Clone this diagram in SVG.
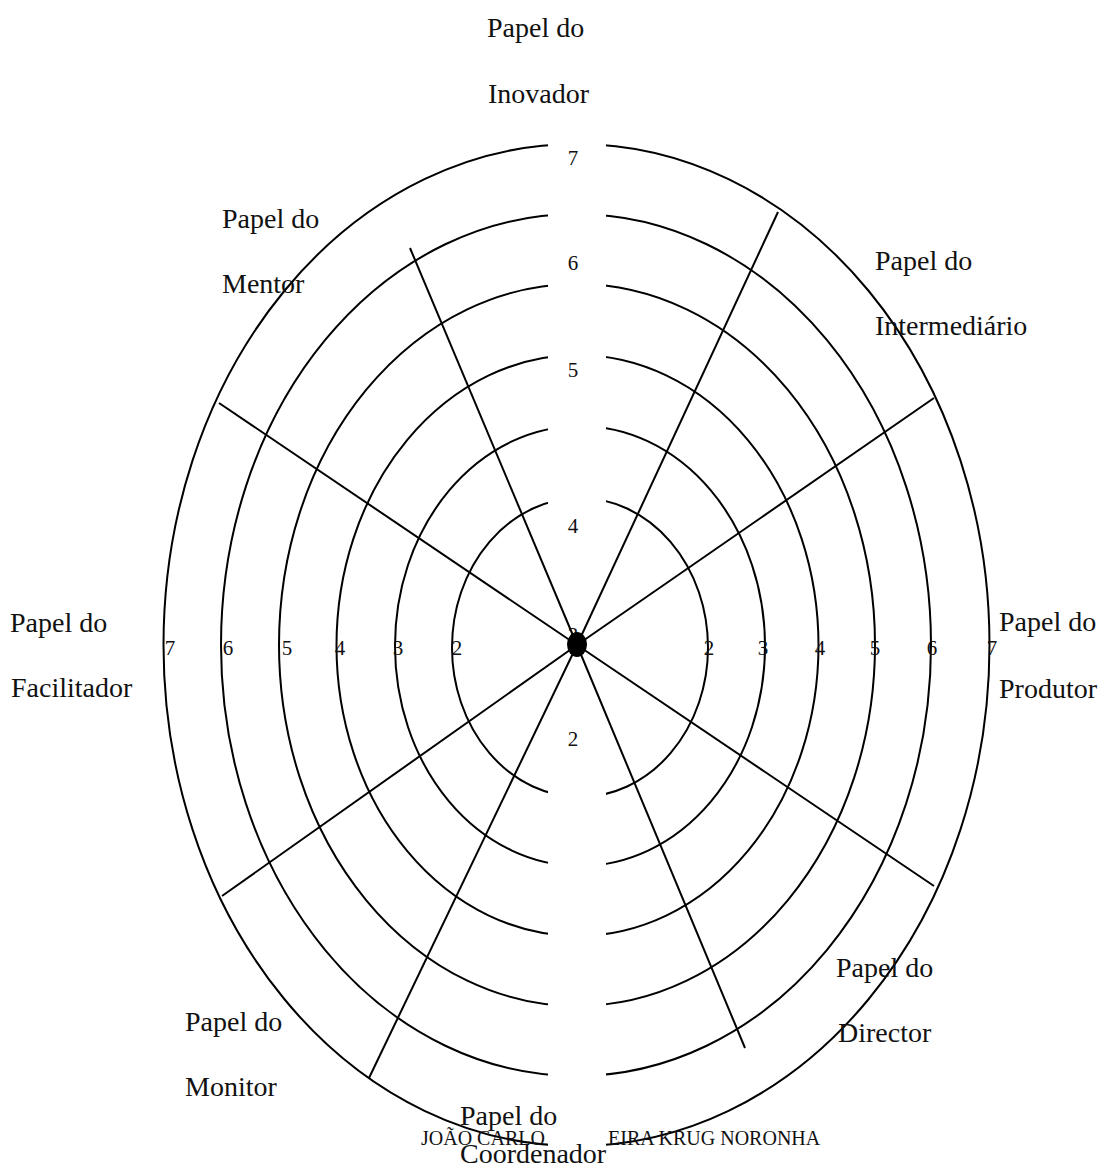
<svg xmlns="http://www.w3.org/2000/svg" width="1106" height="1167" viewBox="0 0 1106 1167">
  <style>
    .ring { fill: none; stroke: #000; stroke-width: 2; }
    .spoke { stroke: #000; stroke-width: 2; }
    .lbl { font-family: "Liberation Serif", "Times New Roman", serif; font-size: 28px; fill: #111; }
    .num { font-family: "Liberation Serif", "Times New Roman", serif; font-size: 21px; fill: #111; text-anchor: middle; }
    .foot { font-family: "Liberation Serif", "Times New Roman", serif; font-size: 20px; fill: #111; }
  </style>

  <rect width="1106" height="1167" fill="#fff"/>

  <!-- concentric scale rings -->
  <g id="rings">
    <ellipse class="ring" cx="576.5" cy="645" rx="413" ry="501"/>
    <ellipse class="ring" cx="576" cy="645" rx="355" ry="431"/>
    <ellipse class="ring" cx="577" cy="645" rx="298" ry="361"/>
    <ellipse class="ring" cx="577.5" cy="645.5" rx="241" ry="290.5"/>
    <ellipse class="ring" cx="580" cy="646" rx="185" ry="220"/>
    <ellipse class="ring" cx="580" cy="647.5" rx="128" ry="149.5"/>
  </g>

  <!-- footer line -->
  <g id="footer">
    <text class="foot" x="421" y="1145">JOÃO CARLO</text>
    <text class="foot" x="608" y="1145">EIRA KRUG NORONHA</text>
  </g>

  <!-- vertical gap through the rings, holding the vertical scale -->
  <rect id="gap" x="548" y="130" width="58" height="1020" fill="#fff"/>

  <!-- scale values -->
  <g id="scale">
    <text class="num" x="573" y="165">7</text>
    <text class="num" x="573" y="270">6</text>
    <text class="num" x="573" y="377">5</text>
    <text class="num" x="573" y="533">4</text>
    <text class="num" x="573" y="642">3</text>
    <text class="num" x="573" y="746">2</text>

    <text class="num" x="170" y="655">7</text>
    <text class="num" x="228" y="655">6</text>
    <text class="num" x="287" y="655">5</text>
    <text class="num" x="340" y="655">4</text>
    <text class="num" x="398" y="655">3</text>
    <text class="num" x="457" y="655">2</text>

    <text class="num" x="709" y="655">2</text>
    <text class="num" x="763" y="655">3</text>
    <text class="num" x="820" y="655">4</text>
    <text class="num" x="875" y="655">5</text>
    <text class="num" x="932" y="655">6</text>
    <text class="num" x="992" y="655">7</text>
  </g>

  <!-- axes from the centre -->
  <g id="spokes">
    <line class="spoke" x1="577" y1="645" x2="410" y2="248"/>
    <line class="spoke" x1="577" y1="645" x2="778" y2="212"/>
    <line class="spoke" x1="577" y1="645" x2="934" y2="398"/>
    <line class="spoke" x1="577" y1="645" x2="219" y2="403"/>
    <line class="spoke" x1="577" y1="645" x2="222" y2="896"/>
    <line class="spoke" x1="577" y1="645" x2="369" y2="1078"/>
    <line class="spoke" x1="577" y1="645" x2="745" y2="1048"/>
    <line class="spoke" x1="577" y1="645" x2="934" y2="886"/>
  </g>

  <ellipse id="hub" cx="577" cy="644.5" rx="10" ry="12.5" fill="#000"/>

  <!-- role labels -->
  <g id="role-inovador">
    <text class="lbl" x="487" y="37">Papel do</text>
    <text class="lbl" x="488" y="103">Inovador</text>
  </g>
  <g id="role-mentor">
    <text class="lbl" x="222" y="228">Papel do</text>
    <text class="lbl" x="222" y="293">Mentor</text>
  </g>
  <g id="role-intermediario">
    <text class="lbl" x="875" y="270">Papel do</text>
    <text class="lbl" x="875" y="335">Intermediário</text>
  </g>
  <g id="role-facilitador">
    <text class="lbl" x="10" y="632">Papel do</text>
    <text class="lbl" x="11" y="697">Facilitador</text>
  </g>
  <g id="role-produtor">
    <text class="lbl" x="999" y="631">Papel do</text>
    <text class="lbl" x="999" y="698">Produtor</text>
  </g>
  <g id="role-director">
    <text class="lbl" x="836" y="977">Papel do</text>
    <text class="lbl" x="838" y="1042">Director</text>
  </g>
  <g id="role-monitor">
    <text class="lbl" x="185" y="1031">Papel do</text>
    <text class="lbl" x="185" y="1096">Monitor</text>
  </g>
  <g id="role-coordenador">
    <text class="lbl" x="460" y="1125">Papel do</text>
    <text class="lbl" x="460" y="1163">Coordenador</text>
  </g>
</svg>
